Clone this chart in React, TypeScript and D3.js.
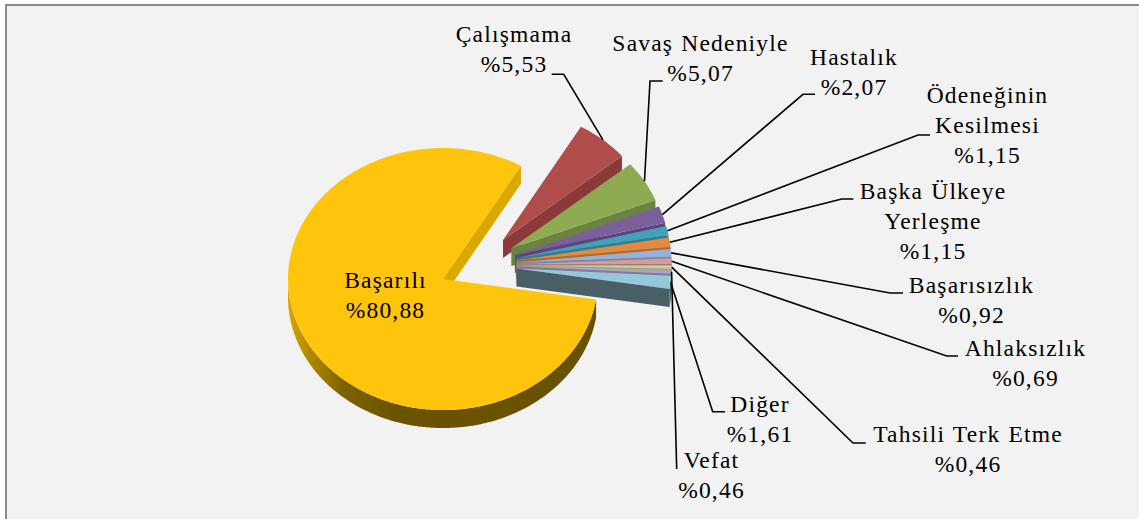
import React from "react";
import * as d3 from "d3";

// ---------- data ----------
const categories = [
  "Başarılı",
  "Çalışmama",
  "Savaş Nedeniyle",
  "Hastalık",
  "Ödeneğinin Kesilmesi",
  "Başka Ülkeye Yerleşme",
  "Başarısızlık",
  "Ahlaksızlık",
  "Tahsili Terk Etme",
  "Vefat",
  "Diğer",
];
const values = [80.88, 5.53, 5.07, 2.07, 1.15, 1.15, 0.92, 0.69, 0.46, 0.46, 1.61];

// ---------- styles ----------
const topColors = [
  "#FFC40C", "#AF4D4B", "#8FAB52", "#7A5F9B", "#44A1BA", "#E48A3F",
  "#97B2D6", "#D79C9A", "#BED197", "#AEA1C3", "#93C9D9",
];
const wallColors = [
  "#DAA800", "#8A3A38", "#6A8340", "#5C4679", "#2F7E92", "#B7682D",
  "#7388A8", "#A97472", "#93A56F", "#847799", "#485F66",
];

// ---------- layout ----------
const W = 1139;
const H = 519;
const CX = 478;
const CY = 265;
const RX = 155;
const RY = 131;
const DEPTH = 18;
const EXPLODE = 0.25;
const FIRST_ANGLE = 99; // degrees, clockwise from 12 o'clock
const LINE_H = 30;

// label line breaks (layout only)
const labelBreaks: Record<string, string[]> = {
  "Ödeneğinin Kesilmesi": ["Ödeneğinin", "Kesilmesi"],
  "Başka Ülkeye Yerleşme": ["Başka Ülkeye", "Yerleşme"],
};

type LabelPos = { x: number; y: number; tail?: [number, number]; elbow?: [number, number] };
const labelLayout: LabelPos[] = [
  { x: 385, y: 288.3 },
  { x: 513.5, y: 42.3, tail: [551.7, 74.3], elbow: [563.7, 74.3] },
  { x: 700, y: 50.7, tail: [662.7, 81], elbow: [650, 81] },
  { x: 853.5, y: 65, tail: [815, 94.3], elbow: [803, 94.3] },
  { x: 987, y: 103.3, tail: [930, 135], elbow: [918, 135] },
  { x: 932.5, y: 199, tail: [853.3, 199], elbow: [841.7, 199] },
  { x: 971, y: 293.3, tail: [903, 293], elbow: [890, 293] },
  { x: 1025, y: 356, tail: [958, 356], elbow: [946.7, 356] },
  { x: 967.5, y: 442.3, tail: [865.7, 443], elbow: [853, 443] },
  { x: 711, y: 468.3, tail: [676.7, 469], elbow: [676.7, 469] },
  { x: 759.5, y: 411.7, tail: [725, 411.7], elbow: [712.7, 411.7] },
];

const fmt = (v: number) => "%" + d3.format(".2f")(v).replace(".", ",");

export default function App() {
  const rad = (deg: number) => (deg * Math.PI) / 180;
  const pie = d3
    .pie<number>()
    .sort(null)
    .startAngle(rad(FIRST_ANGLE))
    .endAngle(rad(FIRST_ANGLE + 360));
  const arcs = pie(values);
  const line = d3.line();

  const pt = (ax: number, ay: number, th: number, z = 0): [number, number] => [
    ax + RX * Math.sin(th),
    ay - RY * Math.cos(th) + z,
  ];
  const sample = (a0: number, a1: number) => {
    const n = Math.max(2, Math.ceil(Math.abs(a1 - a0) / rad(1)));
    return d3.range(n + 1).map((k) => a0 + ((a1 - a0) * k) / n);
  };

  const slices = arcs.map((a, i) => {
    const a0 = a.startAngle;
    const a1 = a.endAngle;
    const m = (a0 + a1) / 2;
    const ax = CX + EXPLODE * RX * Math.sin(m);
    const ay = CY - EXPLODE * RY * Math.cos(m);
    const top =
      line([[ax, ay], ...sample(a0, a1).map((t) => pt(ax, ay, t))] as [number, number][]) + "Z";
    const walls: { d: string; fill: string }[] = [];
    if (Math.sin(a0) < 0) {
      walls.push({
        d: line([[ax, ay], pt(ax, ay, a0), pt(ax, ay, a0, DEPTH), [ax, ay + DEPTH]]) + "Z",
        fill: wallColors[i],
      });
    }
    if (Math.sin(a1) > 0) {
      walls.push({
        d: line([[ax, ay], pt(ax, ay, a1), pt(ax, ay, a1, DEPTH), [ax, ay + DEPTH]]) + "Z",
        fill: wallColors[i],
      });
    }
    const arcWalls: string[] = [];
    for (const k of [0, 1]) {
      const lo = Math.max(a0, Math.PI / 2 + 2 * Math.PI * k);
      const hi = Math.min(a1, (3 * Math.PI) / 2 + 2 * Math.PI * k);
      if (hi > lo) {
        const ts = sample(lo, hi);
        const ptsTop = ts.map((t) => pt(ax, ay, t));
        const ptsBot = ts.slice().reverse().map((t) => pt(ax, ay, t, DEPTH));
        arcWalls.push(line([...ptsTop, ...ptsBot]) + "Z");
      }
    }
    const anchor = pt(ax, ay, m);
    return { i, top, walls, arcWalls, anchor };
  });

  return (
    <svg
      width={W}
      height={H}
      viewBox={`0 0 ${W} ${H}`}
      style={{ position: "absolute", left: 0, top: 0, display: "block", background: "#fff" }}
    >
      <defs>
        <linearGradient id="yellowWall" x1="0" x2="1" y1="0" y2="0">
          <stop offset="0" stopColor="#D6A600" />
          <stop offset="0.07" stopColor="#B08900" />
          <stop offset="0.18" stopColor="#7E6200" />
          <stop offset="0.35" stopColor="#6B5300" />
          <stop offset="1" stopColor="#685100" />
        </linearGradient>
      </defs>
      <rect x={6} y={5} width={W + 10} height={H + 10} fill="#F2F2F2" stroke="#8C8C8C" strokeWidth={2} />

      {slices.map((s) => (
        <g key={categories[s.i]}>
          {s.arcWalls.map((d, k) => (
            <path key={"a" + k} d={d} fill={s.i === 0 ? "url(#yellowWall)" : wallColors[s.i]} />
          ))}
          {s.walls.map((w, k) => (
            <path key={"w" + k} d={w.d} fill={w.fill} />
          ))}
          <path d={s.top} fill={topColors[s.i]} />
        </g>
      ))}

      {slices.map((s) => {
        const L = labelLayout[s.i];
        if (!L.tail || !L.elbow) return null;
        return (
          <polyline
            key={"l" + s.i}
            points={[s.anchor, L.elbow, L.tail].map((p) => p.join(",")).join(" ")}
            fill="none"
            stroke="#000"
            strokeWidth={1.6}
          />
        );
      })}

      {categories.map((c, i) => {
        const L = labelLayout[i];
        const lines = [...(labelBreaks[c] || [c]), fmt(values[i])];
        return (
          <text
            key={"t" + i}
            textAnchor="middle"
            style={{ fontFamily: "'Liberation Serif', serif", fontSize: "23.5px", letterSpacing: "1.2px", wordSpacing: "1px" }}
            fill="#000"
          >
            {lines.map((ln, k) => (
              <tspan key={k} x={L.x + 0.5} y={L.y + k * LINE_H}>
                {ln}
              </tspan>
            ))}
          </text>
        );
      })}
    </svg>
  );
}
